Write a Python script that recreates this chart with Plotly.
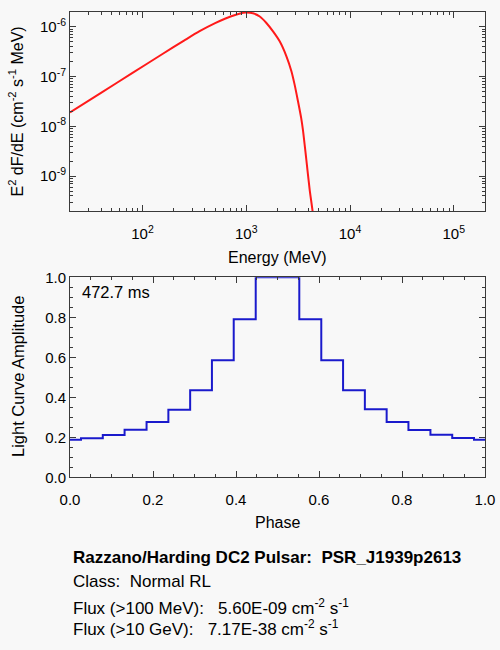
import plotly.graph_objects as go

# ---- data ----
energy_mev = [20, 39.8, 79.4, 158.5, 251, 355, 501, 631, 794, 933, 1000,
              1161, 1349, 1563, 1811, 2099, 2438, 2723, 2924, 3148, 3381,
              3516, 3793, 4083, 4335, 4571]
e2dfde = [1.905e-8, 4.73e-8, 1.175e-7, 2.92e-7, 5.31e-7, 8.22e-7, 1.19e-6,
          1.48e-6, 1.76e-6, 1.93e-6, 1.95e-6, 1.88e-6, 1.62e-6, 1.20e-6,
          8.13e-7, 5.13e-7, 2.57e-7, 1.29e-7, 6.92e-8, 3.24e-8, 1.48e-8,
          8.5e-9, 2.14e-9, 5.37e-10, 2.14e-10, 7.9e-11]

phase = [0.000, 0.053, 0.105, 0.158, 0.211, 0.263, 0.316, 0.368, 0.421, 0.474,
         0.526, 0.579, 0.632, 0.684, 0.737, 0.789, 0.842, 0.895, 0.947, 1.000]
amplitude = [0.188, 0.195, 0.212, 0.238, 0.277, 0.338, 0.435, 0.585, 0.790, 1.000,
             1.000, 0.790, 0.585, 0.435, 0.340, 0.277, 0.237, 0.213, 0.197, 0.188]

energy_ticks = [1e2, 1e3, 1e4, 1e5]
energy_ticktext = ["10<sup>2</sup>", "10<sup>3</sup>", "10<sup>4</sup>", "10<sup>5</sup>"]
flux_ticks = [1e-9, 1e-8, 1e-7, 1e-6]
flux_ticktext = ["10<sup>-9</sup>", "10<sup>-8</sup>", "10<sup>-7</sup>", "10<sup>-6</sup>"]

NB = "\u00a0"
period_text = "472.7 ms"
info_lines = [
    "<b>Razzano/Harding DC2 Pulsar:" + NB * 2 + "PSR_J1939p2613</b>",
    "Class:" + NB * 2 + "Normal RL",
    "Flux (>100 MeV):" + NB * 3 + "5.60E-09 cm<sup>-2</sup> s<sup>-1</sup>",
    "Flux (>10 GeV):" + NB * 3 + "7.17E-38 cm<sup>-2</sup> s<sup>-1</sup>",
]
info_y = [557.5, 581.5, 606.5, 627.5]

W, H = 500, 650
BG = "#f8f8f8"
AX = "#3a3a3a"
FONT = "Liberation Sans, Arial, Helvetica, sans-serif"


def px_x(x):
    return x / W


def px_y(y):
    return 1 - y / H


log_minor_x = [m * 10 ** d for d in range(1, 6) for m in range(2, 10)]
log_minor_y = [m * 10.0 ** d for d in range(-11, -5) for m in range(2, 10)]

fig = go.Figure()
fig.add_trace(go.Scatter(x=energy_mev, y=e2dfde, mode="lines",
                         line=dict(color="#ff1a1a", width=2, shape="spline",
                                   smoothing=0.8),
                         xaxis="x", yaxis="y", showlegend=False))
fig.add_trace(go.Scatter(x=phase, y=amplitude, mode="lines",
                         line=dict(color="#1a1acc", width=2, shape="hvh"),
                         xaxis="x2", yaxis="y2", showlegend=False))

common = dict(showline=True, linecolor=AX, linewidth=1, mirror="ticks",
              ticks="inside", ticklen=6, tickcolor=AX, showgrid=False,
              zeroline=False, automargin=False,
              tickfont=dict(size=15, color="black", family=FONT))
minor_style = dict(ticks="inside", ticklen=3, tickcolor=AX, showgrid=False)

fig.update_layout(
    width=W, height=H,
    margin=dict(l=0, r=0, t=0, b=0),
    paper_bgcolor=BG, plot_bgcolor=BG,
    font=dict(family=FONT, color="black"),
    xaxis=dict(common, type="log", range=[1.301, 5.301], ticklabelstandoff=9,
               tickmode="array", tickvals=energy_ticks, ticktext=energy_ticktext,
               anchor="y", domain=[px_x(70), px_x(485)],
               minor=dict(minor_style, tickmode="array", tickvals=log_minor_x)),
    yaxis=dict(common, type="log", range=[-9.7, -5.7],
               tickmode="array", tickvals=flux_ticks, ticktext=flux_ticktext,
               anchor="x", domain=[px_y(211), px_y(12)],
               minor=dict(minor_style, tickmode="array", tickvals=log_minor_y)),
    xaxis2=dict(common, range=[0, 1], dtick=0.2, tickformat=".1f", anchor="y2",
                ticklabelstandoff=9, domain=[px_x(70), px_x(485)],
                minor=dict(minor_style, dtick=0.05)),
    yaxis2=dict(common, range=[0, 1.0], dtick=0.2, tickformat=".1f", anchor="x2",
                domain=[px_y(477.3), px_y(277.3)],
                minor=dict(minor_style, dtick=0.05)),
)

notes = [
    # axis titles
    dict(text="Energy (MeV)", x=px_x(277.5), y=px_y(257), xanchor="center",
         yanchor="middle", font=dict(size=16)),
    dict(text="E<sup>2</sup> dF/dE (cm<sup>-2</sup> s<sup>-1</sup> MeV)",
         x=px_x(16), y=px_y(111.5), textangle=-90, xanchor="center",
         yanchor="middle", font=dict(size=16)),
    dict(text="Phase", x=px_x(277.5), y=px_y(522), xanchor="center",
         yanchor="middle", font=dict(size=16)),
    dict(text="Light Curve Amplitude", x=px_x(18), y=px_y(377), textangle=-90,
         xanchor="center", yanchor="middle", font=dict(size=16.5)),
    # period label inside light curve panel
    dict(text=period_text, x=px_x(80), y=px_y(292.5), xanchor="left",
         yanchor="middle", font=dict(size=16.5)),
]
for txt, yy in zip(info_lines, info_y):
    notes.append(dict(text=txt, x=px_x(70.5), y=px_y(yy), xanchor="left",
                      yanchor="middle", font=dict(size=17)))
for n in notes:
    fig.add_annotation(xref="paper", yref="paper", showarrow=False, **n)

fig.write_html("out.html", config={"displayModeBar": False},
               post_script="document.body.style.margin='0';")
